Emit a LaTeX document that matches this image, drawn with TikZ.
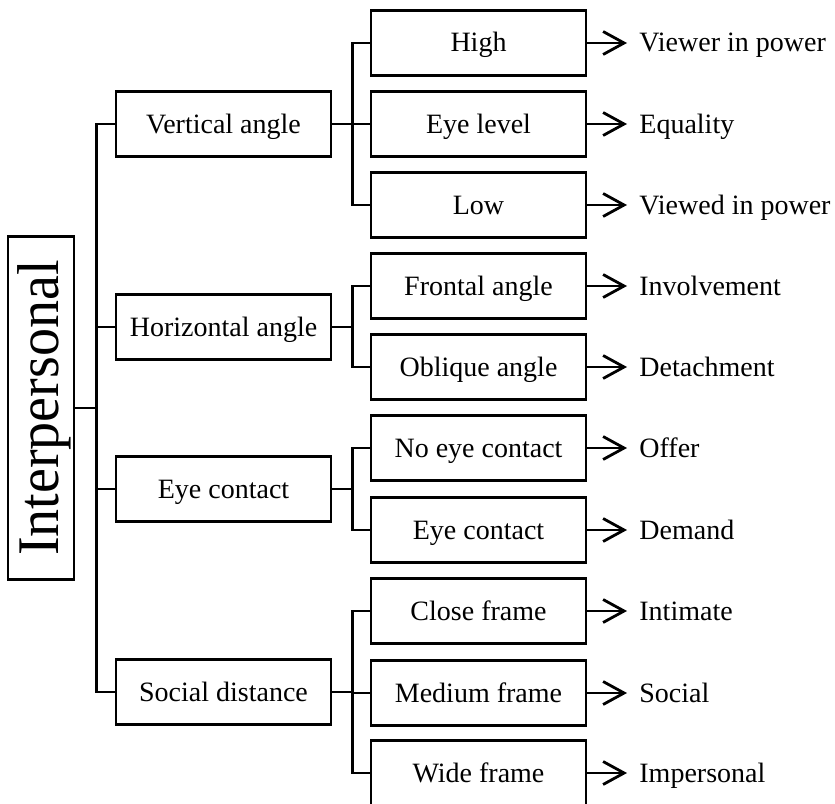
\documentclass[tikz,border=0pt]{standalone}
\usepackage{fontspec}
\setmainfont{Liberation Serif}
\usetikzlibrary{arrows.meta}

\begin{document}
\begin{tikzpicture}[
    x=1bp, y=-1bp, line width=2.8bp,
    txt/.style={font=\fontsize{28bp}{34bp}\selectfont, text height=20bp, text depth=2bp},
    box/.style={txt, draw=black, minimum width=215bp, minimum height=65bp, inner sep=0pt},
    result/.style={txt, anchor=west, inner sep=0pt},
    arrow/.style={-{Straight Barb[length=21bp, width=23bp]}, shorten >=11bp}
]

\useasboundingbox (0,0) rectangle (835,804);

% ── Root (rotated: its south side faces right) ───────────────────────────────
\node[draw=black, rotate=90, minimum width=343bp, minimum height=66bp, inner sep=0pt,
      font=\fontsize{59bp}{62bp}\selectfont, text height=35bp, text depth=0bp]
      (root) at (41, 408) {\scalebox{0.95}[1]{Interpersonal}};

% ── First level ──────────────────────────────────────────────────────────────
\foreach \nm/\y/\lbl in {va/124/Vertical angle, ha/327/Horizontal angle,
                         ec/489/Eye contact, sd/692/Social distance} {
    \node[box] (\nm) at (223.5, \y) {\lbl};
    \draw (root.south) -- ++(21,0) |- (\nm.west);
}

% ── Second level, with the meaning each choice carries ───────────────────────
\foreach \nm/\up/\y/\lbl/\res in {
        high/va/43/High/Viewer in power,
        eyelvl/va/124/Eye level/Equality,
        low/va/205/Low/Viewed in power,
        frontal/ha/286/Frontal angle/Involvement,
        oblique/ha/367/Oblique angle/Detachment,
        noeye/ec/448/No eye contact/Offer,
        eyec/ec/530/Eye contact/Demand,
        close/sd/611/Close frame/Intimate,
        medium/sd/693/Medium frame/Social,
        wide/sd/773/Wide frame/Impersonal} {
    \node[box] (\nm) at (478.5, \y) {\lbl};
    \node[result] (\nm-r) at (638, \y) {\res};
    \draw (\up.east) -- ++(20,0) |- (\nm.west);
    \draw[arrow] (\nm.east) -- (\nm-r.west);
}

\end{tikzpicture}
\end{document}
